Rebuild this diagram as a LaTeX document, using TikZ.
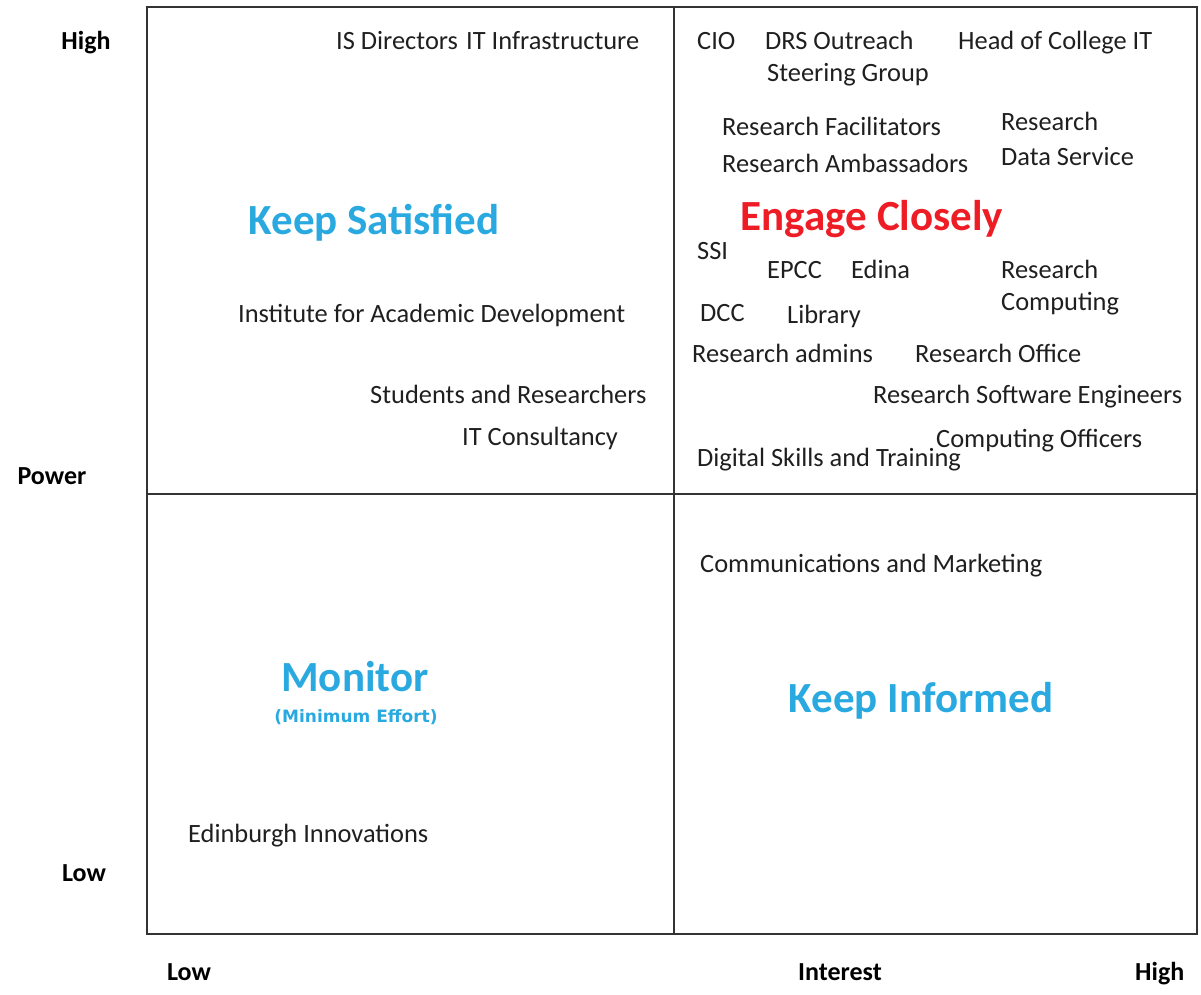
\documentclass[tikz,border=0pt]{standalone}
\usepackage{fontspec}
\setmainfont{Carlito}
\newfontfamily\dejavu{DejaVu Sans}
\definecolor{qblue}{HTML}{2AA9E0}
\definecolor{qred}{HTML}{EE1C25}
\definecolor{qline}{HTML}{333333}
\begin{document}
\begin{tikzpicture}[x=1pt,y=-1pt,
  lbl/.style={inner sep=0pt, font=\fontsize{26.4}{30}\selectfont, text=black!88, text height=0.42em, text depth=0.42em, yshift=-4pt},
  lft/.style={lbl, anchor=west},
  axis/.style={inner sep=0pt, font=\fontsize{26}{30}\selectfont\bfseries, text=black, text height=0.42em, text depth=0.42em, yshift=-3pt},
  head/.style={inner sep=0pt, font=\fontsize{43}{48}\selectfont\bfseries, text=qblue, text height=0.42em, text depth=0.42em, yshift=-4pt},
  frame/.style={draw=qline, line width=2pt}]
\useasboundingbox (0,0) rectangle (1201,995);
% frame
\coordinate (tl) at (147,7);
\coordinate (br) at (1197,934);
\coordinate (mt) at (674,7);
\coordinate (mb) at (674,934);
\coordinate (ml) at (147,494);
\coordinate (mr) at (1197,494);
\draw[frame] (tl) rectangle (br);
\draw[frame] (mt) -- (mb);
\draw[frame] (ml) -- (mr);
% axis labels
\node[axis] (yhigh) at (86,47) {High};
\node[axis] (ypow) at (52,481) {Power};
\node[axis] (ylow) at (84,878) {Low};
\node[axis] (xlow) at (189,977) {Low};
\node[axis] (xint) at (840,977) {Interest};
\node[axis, anchor=west] (xhigh) at (1135,977) {High};
% headers
\node[head] (ks) at (374,230) {Keep Satisfied};
\node[head, text=qred] (ec) at (872,226) {Engage Closely};
\node[head] (mon) at (355,687) {Monitor};
\node[inner sep=0pt, font=\dejavu\fontsize{17}{19}\selectfont\bfseries, text=qblue] (mine) at (356,717) {(Minimum Effort)};
\node[head] (ki) at (921,708) {Keep Informed};
% top-left
\node[lft] (isd) at (336,46) {IS Directors};
\node[lft] (iti) at (466,46) {IT Infrastructure};
\node[lft] (iad) at (238,318) {Institute for Academic Development};
\node[lft] (sar) at (370,399) {Students and Researchers};
\node[lft] (itc) at (462,441) {IT Consultancy};
% top-right
\node[lft] (cio) at (697,46) {CIO};
\node[lft] (drs) at (765,46) {DRS Outreach};
\node[lft] (stg) at (767,78) {Steering Group};
\node[lft] (hoc) at (958,46) {Head of College IT};
\node[lft] (rfa) at (722,132) {Research Facilitators};
\node[lft] (ram) at (722,168) {Research Ambassadors};
\node[lft] (rds1) at (1001,127) {Research};
\node[lft] (rds2) at (1001,162) {Data Service};
\node[lft] (ssi) at (697,255) {SSI};
\node[lft] (epcc) at (767,274) {EPCC};
\node[lft] (edi) at (851,274) {Edina};
\node[lft] (rc1) at (1001,274) {Research};
\node[lft] (rc2) at (1001,306) {Computing};
\node[lft] (dcc) at (700,317) {DCC};
\node[lft] (lib) at (787,319) {Library};
\node[lft] (rad) at (692,358) {Research admins};
\node[lft] (rof) at (915,358) {Research Office};
\node[lft] (rse) at (873,399) {Research Software Engineers};
\node[lft] (cof) at (936,443) {Computing Officers};
\node[lft] (dst) at (697,462) {Digital Skills and Training};
% bottom
\node[lft] (cam) at (700,568) {Communications and Marketing};
\node[lft] (edin) at (188,838) {Edinburgh Innovations};
\end{tikzpicture}
\end{document}
